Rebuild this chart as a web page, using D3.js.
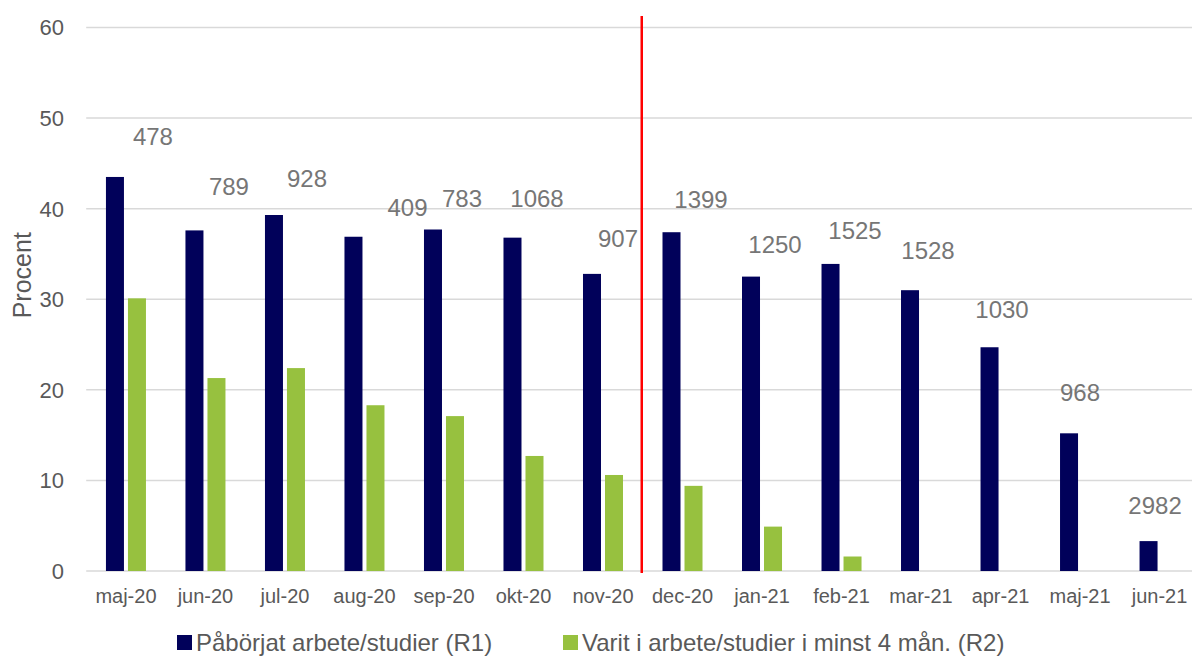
<!DOCTYPE html>
<html>
<head>
<meta charset="utf-8">
<script src="https://cdn.jsdelivr.net/npm/d3@7"></script>
<style>
  html, body { margin: 0; padding: 0; background: #fff; }
  svg { display: block; font-family: "Liberation Sans", Arial, sans-serif; }
</style>
</head>
<body>
<svg id="chart" width="1192" height="657"></svg>
<script>
// ---- data ----
const categories = ["maj-20","jun-20","jul-20","aug-20","sep-20","okt-20","nov-20","dec-20","jan-21","feb-21","mar-21","apr-21","maj-21","jun-21"];
const seriesNames = ["Påbörjat arbete/studier (R1)", "Varit i arbete/studier i minst 4 mån. (R2)"];
const r1Values = [43.5, 37.6, 39.3, 36.9, 37.7, 36.8, 32.8, 37.4, 32.5, 33.9, 31.0, 24.7, 15.2, 3.3];
const r2Values = [30.1, 21.3, 22.4, 18.3, 17.1, 12.7, 10.6, 9.4, 4.9, 1.6, null, null, null, null];
const nCounts = [478, 789, 928, 409, 783, 1068, 907, 1399, 1250, 1525, 1528, 1030, 968, 2982];
const yTicks = [0, 10, 20, 30, 40, 50, 60];
const yLabel = "Procent";
const dividerAfter = "nov-20";

// label placement (layout, in data units / px nudges)
const labelLevel = [47.0, 41.5, 42.4, 39.2, 40.2, 40.2, 35.8, 40.1, 35.1, 36.6, 34.4, 27.9, 18.8, 6.3];
const labelShift = [27, 23.5, 22, 43, 18, 13.5, 15, 18.5, 13, 13.5, 7, 1.5, 0, -4.5];

// ---- layout ----
const colors = ["#01015a", "#97c13f"];
const svg = d3.select("#chart");
const plotLeft = 86.2, plotRight = 1199.3, plotTop = 27.5, plotBottom = 571;

const x = d3.scaleBand().domain(categories).range([plotLeft, plotRight]).padding(0);
const bw = x.bandwidth();
const x1 = d3.scaleBand().domain([0, 1]).range([bw * 0.2484, bw * 0.7516]).paddingInner(0.182).paddingOuter(0);
const y = d3.scaleLinear().domain([0, 60]).range([plotBottom, plotTop]);

// gridlines
svg.append("g").selectAll("line").data(yTicks).join("line")
  .attr("x1", plotLeft).attr("x2", 1192)
  .attr("y1", d => y(d)).attr("y2", d => y(d))
  .attr("stroke", "#d9d9d9").attr("stroke-width", 1.5);

// y tick labels
svg.append("g").selectAll("text").data(yTicks).join("text")
  .attr("x", 64).attr("y", d => y(d)).attr("dy", "0.36em")
  .attr("text-anchor", "end").attr("font-size", 22).attr("fill", "#595959")
  .text(d => d);

// y axis title
svg.append("text")
  .attr("transform", `translate(31, ${y(30) - 24}) rotate(-90)`)
  .attr("text-anchor", "middle").attr("font-size", 25).attr("fill", "#595959")
  .text(yLabel);

// bars
const rows = categories.map((c, i) => ({ c, i, vals: [r1Values[i], r2Values[i]] }));
const g = svg.append("g");
rows.forEach(r => {
  r.vals.forEach((v, s) => {
    if (v == null) return;
    g.append("rect")
      .attr("x", x(r.c) + x1(s))
      .attr("y", y(v))
      .attr("width", x1.bandwidth())
      .attr("height", y(0) - y(v))
      .attr("fill", colors[s]);
  });
});

// x category labels
svg.append("g").selectAll("text").data(categories).join("text")
  .attr("x", d => x(d) + bw / 2).attr("y", 603)
  .attr("text-anchor", "middle").attr("font-size", 20).attr("fill", "#595959")
  .text(d => d);

// n labels
svg.append("g").selectAll("text").data(categories).join("text")
  .attr("x", (d, i) => x(d) + bw / 2 + labelShift[i])
  .attr("y", (d, i) => y(labelLevel[i]))
  .attr("text-anchor", "middle").attr("font-size", 24).attr("fill", "#767676")
  .text((d, i) => nCounts[i]);

// red divider line
const divX = x(dividerAfter) + bw;
svg.append("line")
  .attr("x1", divX - 1).attr("x2", divX - 1)
  .attr("y1", 16).attr("y2", y(0) + 2)
  .attr("stroke", "#ff0000").attr("stroke-width", 2.5);

// legend
const legendX = [177, 563];
const lg = svg.append("g");
seriesNames.forEach((name, s) => {
  lg.append("rect").attr("x", legendX[s]).attr("y", 635).attr("width", 15).attr("height", 15).attr("fill", colors[s]);
  lg.append("text").attr("x", legendX[s] + 19).attr("y", 651)
    .attr("font-size", 24).attr("fill", "#595959").text(name);
});
</script>
</body>
</html>
